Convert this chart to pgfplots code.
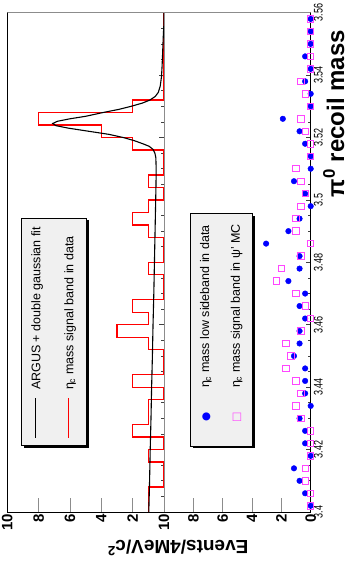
\documentclass[border=0pt]{standalone}
\usepackage{fontspec}
\setmainfont{Liberation Sans}
\newfontfamily\djv{DejaVu Sans}
\usepackage{graphicx}
\usepackage{pgfplots}
\pgfplotsset{compat=1.18}
\usetikzlibrary{shadows}
\definecolor{mymag}{RGB}{255,70,255}
\definecolor{framegray}{RGB}{140,140,140}
\definecolor{legfill}{RGB}{240,240,240}
\newcommand{\ml}[1]{\scalebox{0.72}[1]{#1}}
\begin{document}
\begin{tikzpicture}
\useasboundingbox (0pt,0pt) rectangle (346pt,561pt);
\pgfplotsset{
  panel/.style={
    scale only axis, height=499.3pt,
    ymin=3.40, ymax=3.56, xmin=0, xmax=10, x dir=reverse,
    axis line style={black, line width=0.7pt},
    tick align=inside,
    xtick={0,2,4,6,8,10}, xtick pos=bottom, minor x tick num=0,
    xtick style={black!45, line width=0.8pt, /pgfplots/major tick length=14pt},
    ytick={3.40,3.42,3.44,3.46,3.48,3.50,3.52,3.54,3.56}, ytick pos=right,
    minor y tick num=3,
    ytick style={black!75, line width=0.6pt},
    major tick length=5pt, minor tick length=2.5pt,
    /pgf/number format/assume math mode=true,
    xticklabel style={rotate=90, anchor=east, font=\fontsize{15}{15}\selectfont\bfseries, inner sep=2pt},
  },
}
% ---------------- upper panel (histogram) ----------------
\begin{axis}[panel, at={(7.3pt,49pt)}, anchor=south west, width=156.7pt,
  xticklabels={,2,4,6,8,10}, yticklabels={},
]
\addplot[red, line width=1.3pt] coordinates {
(1,3.400) (1,3.408) (0,3.408) (0,3.416) (1,3.416) (1,3.420) (0,3.420) (0,3.424)
(2,3.424) (2,3.428) (1,3.428) (1,3.436) (0,3.436) (0,3.440) (2,3.440) (2,3.444)
(0,3.444) (0,3.452) (1,3.452) (1,3.456) (3,3.456) (3,3.460) (1,3.460) (1,3.464)
(2,3.464) (2,3.468) (0,3.468) (0,3.476) (1,3.476) (1,3.480) (0,3.480) (0,3.488)
(1,3.488) (1,3.492) (2,3.492) (2,3.496) (1,3.496) (1,3.500) (0,3.500) (0,3.504)
(1,3.504) (1,3.508) (0,3.508) (0,3.516) (2,3.516) (2,3.520) (4,3.520) (4,3.524)
(8,3.524) (8,3.528) (2,3.528) (2,3.532) (0,3.532) (0,3.560)
};
\addplot[black, line width=1.1pt] coordinates {
(0.97,3.400) (0.92,3.410) (0.88,3.420) (0.83,3.430) (0.79,3.440) (0.74,3.450)
(0.70,3.460) (0.65,3.470) (0.61,3.480) (0.57,3.490) (0.53,3.500) (0.51,3.505)
(0.50,3.510) (0.52,3.5135) (0.58,3.5150) (0.70,3.5162) (0.95,3.5172) (1.35,3.5180)
(1.90,3.5190) (2.60,3.5200) (3.50,3.5210) (4.80,3.5220) (6.10,3.5230) (6.90,3.5238)
(7.10,3.5245) (6.80,3.5252) (6.00,3.5260) (5.00,3.5268) (3.90,3.5280) (2.90,3.5290)
(2.10,3.5300) (1.40,3.5310) (0.90,3.5320) (0.55,3.5332) (0.36,3.5345) (0.24,3.5365)
(0.16,3.5395) (0.12,3.5430) (0.08,3.5480) (0.05,3.5520) (0.02,3.5550) (0.00,3.5570)
(0.00,3.5600)
};
\draw[framegray, line width=0.7pt] (axis description cs:0,1) -- (axis description cs:1,1);
\end{axis}
% ---------------- lower panel (scatter) ----------------
\begin{axis}[panel, at={(164pt,49pt)}, anchor=south west, width=146.7pt,
  xticklabels={0,2,4,6,8,10},
  yticklabels={\ml{3.4},\ml{3.42},\ml{3.44},\ml{3.46},\ml{3.48},\ml{3.5},\ml{3.52},\ml{3.54},\ml{3.56}},
  yticklabel style={rotate=90, anchor=north, font=\fontsize{12.5}{12.5}\selectfont, inner sep=3pt},
]
\addplot[only marks, mark=*, mark size=2.8pt, color=blue, mark options={fill=blue, draw=blue}] coordinates {
(0,3.402) (0.38,3.406) (0.76,3.410) (1.14,3.414) (0,3.418) (0.38,3.422) (0.38,3.426) (0.76,3.430)
(0,3.434) (0.38,3.438) (0.38,3.442) (0.38,3.446) (1.14,3.450) (0.76,3.454) (0.76,3.458) (0.38,3.462)
(0.76,3.466) (0.38,3.470) (1.52,3.474) (0.76,3.478) (0.76,3.482) (3.04,3.486) (1.52,3.490) (0.76,3.494)
(0,3.498) (0.38,3.502) (1.14,3.506) (0,3.510) (0,3.514) (0.38,3.518) (0.76,3.522) (1.90,3.526)
(0,3.530) (0,3.534) (0.38,3.538) (0,3.542) (0.38,3.546) (0,3.550) (0,3.554) (0,3.558)
};
\addplot[only marks, mark=square, mark size=3.2pt, color=mymag, mark options={line width=0.9pt}] coordinates {
(0,3.402) (0,3.406) (0.34,3.410) (0.34,3.414) (0,3.418) (0,3.422) (0,3.426) (0.67,3.430)
(1.0,3.434) (0.67,3.438) (1.0,3.442) (1.68,3.446) (1.34,3.450) (1.68,3.454) (0.67,3.458) (0,3.462)
(0.34,3.466) (1.0,3.470) (2.35,3.474) (2.0,3.478) (0.67,3.482) (0,3.486) (1.0,3.490) (1.0,3.494)
(0.67,3.498) (0.34,3.502) (0.67,3.506) (1.0,3.510) (0,3.514) (0,3.518) (0.34,3.522) (0.67,3.526)
(0,3.530) (0.34,3.534) (0.67,3.538) (0,3.542) (0,3.546) (0,3.550) (0,3.554) (0,3.558)
};
\draw[framegray, line width=0.7pt] (axis description cs:0,1) -- (axis description cs:1,1);
\draw[framegray, line width=0.7pt] (axis description cs:0,0) -- (axis description cs:0,1);
\end{axis}
% legends
\node[rotate=90, fill=legfill, draw=black, line width=0.5pt,
  general shadow={fill=black, shadow xshift=2.5pt, shadow yshift=-2.5pt},
  minimum width=227.7pt, minimum height=64.3pt, inner xsep=7.7pt, inner ysep=0pt,
  font=\fontsize{12.5}{15}\selectfont]
  at (53.85pt,229.15pt) {%
  \makebox[212.3pt][l]{\begin{tabular}{@{}l@{\hspace{8pt}}l@{}}
  \textcolor{black}{\rule[4pt]{40pt}{1.1pt}} & ARGUS + double gaussian fit\\[18pt]
  \textcolor{red}{\rule[4pt]{40pt}{1.3pt}} & η\textsubscript{c} mass signal band in data
  \end{tabular}}};
\node[rotate=90, fill=legfill, draw=black, line width=0.5pt,
  general shadow={fill=black, shadow xshift=2.5pt, shadow yshift=-2.5pt},
  minimum width=232.7pt, minimum height=61.6pt, inner xsep=7.7pt, inner ysep=0pt,
  font=\fontsize{12.5}{15}\selectfont]
  at (221.5pt,231.35pt) {%
  \makebox[217.3pt][l]{\begin{tabular}{@{}l@{\hspace{8.3pt}}l@{}}
  \makebox[42pt]{\djv\fontsize{10.5}{10.5}\selectfont\textcolor{blue}{●}} & η\textsubscript{c} mass low sideband in data\\[15.7pt]
  \makebox[42pt]{\djv\fontsize{11}{11}\selectfont\textcolor{mymag}{□}} & η\textsubscript{c} mass signal band in ψ' MC
  \end{tabular}}};
% axis titles
\node[rotate=90, anchor=base east, font=\fontsize{24}{24}\selectfont\bfseries, inner sep=0pt]
  at (344pt,531pt) {π\textsuperscript{0} recoil mass};
\node[rotate=180, anchor=center, font=\fontsize{19}{19}\selectfont\bfseries, inner sep=0pt]
  at (178pt,13pt) {Events/4MeV/c\textsuperscript{2}};
\end{tikzpicture}
\end{document}
